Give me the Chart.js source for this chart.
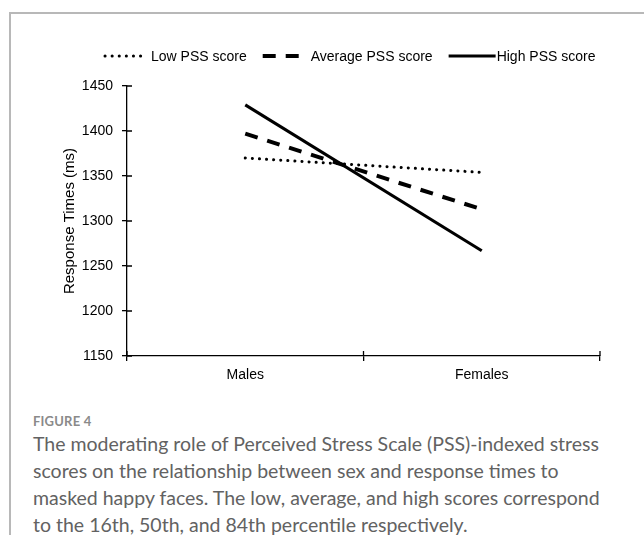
<!DOCTYPE html>
<html>
<head>
<meta charset="utf-8">
<script src="https://cdn.jsdelivr.net/npm/chart.js@4"></script>
<style>
  html, body { margin: 0; padding: 0; background: #fff; }
  body { width: 644px; height: 535px; position: relative; overflow: hidden; }
  #frame { position: absolute; left: 9px; top: 12px; width: 640px; height: 530px;
           border-top: 2px solid #b8b8b8; border-left: 2px solid #b8b8b8; }
  #wrap { position: absolute; left: 10px; top: 14px; width: 634px; height: 390px; }
  #caption { position: absolute; left: 33px; top: 413px; width: 580px; font-family: Lato, "Open Sans", sans-serif; color: #626262; }
  #fig { font-size: 13px; font-weight: 700; color: #8a8a8a; letter-spacing: 0.2px; }
  #text { font-size: 19.5px; line-height: 27px; margin-top: 1px; }
</style>
</head>
<body>
<div id="frame"></div>
<div id="wrap"><canvas id="c" width="634" height="390"></canvas></div>
<div id="caption">
  <div id="fig">FIGURE 4</div>
  <div id="text">The moderating role of Perceived Stress Scale (PSS)-indexed stress scores on the relationship between sex and response times to masked happy faces. The low, average, and high scores correspond to the 16th, 50th, and 84th percentile respectively.</div>
</div>
<script>
const categories = ['Males', 'Females'];
const seriesNames = ['Low PSS score', 'Average PSS score', 'High PSS score'];
const lowPSS = [1370, 1354];
const averagePSS = [1397, 1313];
const highPSS = [1429, 1267];
const yMin = 1150, yMax = 1450, yStep = 50;
const yTitle = 'Response Times (ms)';

Chart.defaults.font.family = '"Liberation Sans", Arial, sans-serif';
Chart.defaults.font.size = 14;
Chart.defaults.color = '#000';

const legendPlugin = {
  id: 'customLegend',
  afterDraw(chart) {
    const ctx = chart.ctx;
    const y = 42;
    let x = 93;
    const itemGap = 16;
    ctx.save();
    ctx.font = '14px "Liberation Sans", Arial, sans-serif';
    ctx.textBaseline = 'middle';
    ctx.fillStyle = '#000';
    chart.data.datasets.forEach(ds => {
      const sample = ds.legendSample || 40;
      const gap = ds.legendGap !== undefined ? ds.legendGap : 8;
      ctx.save();
      ctx.strokeStyle = ds.borderColor;
      ctx.lineWidth = ds.borderWidth;
      ctx.lineCap = ds.borderCapStyle || 'butt';
      ctx.setLineDash(ds.borderDash || []);
      ctx.beginPath();
      ctx.moveTo(x + (ds.legendInset || 0), y);
      ctx.lineTo(x + sample, y);
      ctx.stroke();
      ctx.restore();
      x += sample + gap;
      ctx.fillText(ds.label, x, y + 1);
      x += ctx.measureText(ds.label).width + itemGap;
    });
    ctx.restore();
  }
};

const crossTicks = {
  id: 'crossTicks',
  afterDraw(chart) {
    const ctx = chart.ctx;
    const xs = chart.scales.x, ys = chart.scales.y;
    ctx.save();
    ctx.strokeStyle = '#000';
    ctx.lineWidth = 1.3;
    ctx.beginPath();
    ys.ticks.forEach((t, i) => {
      const py = ys.getPixelForTick(i);
      ctx.moveTo(ys.right, py);
      ctx.lineTo(ys.right + 5, py);
    });
    for (let i = 0; i <= categories.length; i++) {
      const px = xs.getPixelForValue(i - 0.5);
      ctx.moveTo(px, xs.top);
      ctx.lineTo(px, xs.top - 5);
    }
    ctx.stroke();
    ctx.restore();
  }
};

new Chart(document.getElementById('c'), {
  type: 'line',
  data: {
    labels: categories,
    datasets: [
      { label: seriesNames[0], data: lowPSS, borderColor: '#000', borderWidth: 3,
        borderDash: [0.1, 7], borderCapStyle: 'round', pointRadius: 0, fill: false, legendInset: 2 },
      { label: seriesNames[1], data: averagePSS, borderColor: '#000', borderWidth: 4,
        borderDash: [13, 10], borderCapStyle: 'butt', pointRadius: 0, fill: false },
      { label: seriesNames[2], data: highPSS, borderColor: '#000', borderWidth: 3,
        borderCapStyle: 'butt', pointRadius: 0, fill: false, legendSample: 47, legendGap: 1 }
    ]
  },
  options: {
    responsive: false,
    animation: false,
    devicePixelRatio: 1,
    layout: { padding: { top: 72, right: 44, bottom: 18, left: 0 } },
    plugins: { legend: { display: false }, tooltip: { enabled: false } },
    scales: {
      x: {
        type: 'category',
        offset: true,
        grid: { display: true, drawOnChartArea: false, drawTicks: true, tickLength: 5, color: '#000', lineWidth: 1.3, offset: true },
        border: { display: true, color: '#000', width: 1.3 },
        ticks: { padding: 6, color: '#000', font: { size: 14 } },
        afterFit(s) { s.height = 30; }
      },
      y: {
        min: yMin, max: yMax,
        grid: { display: true, drawOnChartArea: false, drawTicks: true, tickLength: 5, color: '#000', lineWidth: 1.3 },
        border: { display: true, color: '#000', width: 1.3 },
        ticks: { stepSize: yStep, padding: 9, color: '#000', font: { size: 14 }, callback: v => String(v) },
        title: { display: true, text: yTitle, color: '#000', font: { size: 15 }, padding: { top: 51, bottom: 0 } },
        afterFit(s) { s.width = 117; }
      }
    }
  },
  plugins: [legendPlugin, crossTicks]
});
</script>
</body>
</html>
